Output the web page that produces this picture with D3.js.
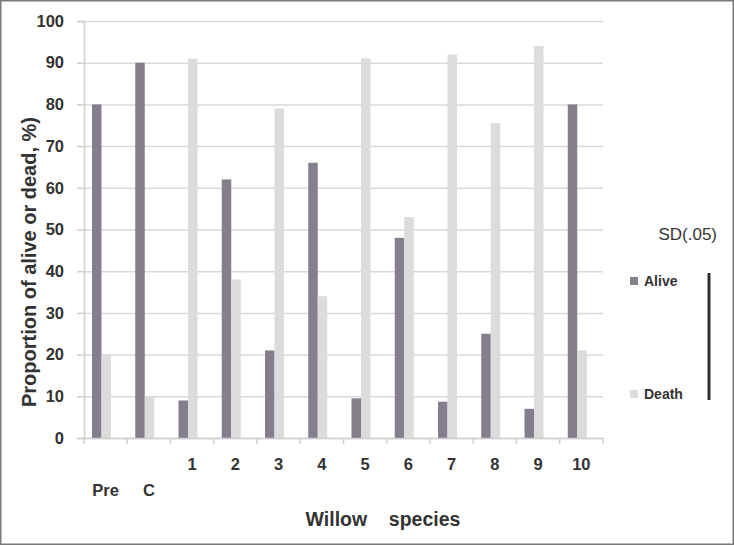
<!DOCTYPE html>
<html lang="en">
  <head>
    <meta charset="utf-8" />
    <title>Willow species survival</title>
    <script src="https://d3js.org/d3.v7.min.js"></script>
    <style>
      body { margin: 0; background: #fff; }
      svg { display: block; font-family: "Liberation Sans", Arial, sans-serif; }
      .grid line { stroke: #d9d9d9; stroke-width: 1.5; }
      .grid path { stroke: none; }
    </style>
  </head>
  <body>
    <svg width="734" height="545"></svg>
  </body>
  <script>
    // Data
    const categories = ['Pre', 'C', '1', '2', '3', '4', '5', '6', '7', '8', '9', '10'];
    const alive = [80, 90, 9, 62, 21, 66, 9.5, 48, 8.7, 25, 7, 80];
    const death = [20, 10, 91, 38, 79, 34, 91, 53, 92, 75.5, 94, 21];
    const seriesNames = ['Alive', 'Death'];
    const seriesColors = ['#847e8d', '#dcdcdc'];
    const yTicks = [0, 10, 20, 30, 40, 50, 60, 70, 80, 90, 100];

    const svg = d3.select('svg');
    const ink = '#333';

    // outer frame like the scanned figure
    svg.append('rect')
      .attr('x', 0.75).attr('y', 0.75)
      .attr('width', 732.5).attr('height', 543.5)
      .attr('fill', 'none').attr('stroke', '#7a7a7a').attr('stroke-width', 1.5);

    const plotLeft = 84, plotRight = 603, plotTop = 21, plotBottom = 438;

    const x0 = d3.scaleBand().domain(categories).range([plotLeft, plotRight]);
    const x1 = d3.scaleBand().domain(seriesNames).range([8, 27]);
    const y = d3.scaleLinear().domain([0, 100]).range([plotBottom, plotTop]);

    // horizontal grid lines
    svg.append('g')
      .attr('class', 'grid')
      .attr('transform', `translate(${plotLeft},0)`)
      .call(d3.axisLeft(y).tickValues(yTicks).tickSize(-(plotRight - plotLeft)).tickFormat(''));

    // y axis with labels
    const yAxis = svg.append('g')
      .attr('transform', `translate(${plotLeft},0)`)
      .call(d3.axisLeft(y).tickValues(yTicks).tickSize(7).tickPadding(13));
    yAxis.select('.domain').attr('stroke', '#cfcfcf').attr('stroke-width', 1.5);
    yAxis.selectAll('.tick line').attr('stroke', '#cfcfcf').attr('stroke-width', 1.5);
    yAxis.selectAll('.tick text')
      .attr('font-family', '"Liberation Sans", Arial, sans-serif')
      .attr('font-size', 16.5).attr('font-weight', 'bold').attr('fill', ink);

    // bars
    const rows = categories.map((c, i) => ({ cat: c, values: [alive[i], death[i]] }));
    const groups = svg.append('g').selectAll('g')
      .data(rows).join('g')
      .attr('transform', d => `translate(${x0(d.cat)},0)`);
    groups.selectAll('rect')
      .data(d => d.values.map((v, k) => ({ key: seriesNames[k], value: v, k })))
      .join('rect')
      .attr('x', d => x1(d.key))
      .attr('width', x1.bandwidth())
      .attr('y', d => y(d.value))
      .attr('height', d => y(0) - y(d.value))
      .attr('fill', d => seriesColors[d.k]);

    // x axis
    const xAxis = svg.append('g')
      .attr('transform', `translate(0,${plotBottom})`)
      .call(d3.axisBottom(x0).tickSize(0).tickFormat(''));
    xAxis.select('.domain').attr('stroke', '#cfcfcf').attr('stroke-width', 1.5);
    // tick marks at the band edges
    xAxis.selectAll('.edge')
      .data(categories.concat(['end']))
      .join('line')
      .attr('x1', (d, i) => plotLeft + i * x0.step())
      .attr('x2', (d, i) => plotLeft + i * x0.step())
      .attr('y1', 0).attr('y2', 6)
      .attr('stroke', '#cfcfcf').attr('stroke-width', 1.5);

    // category labels: numbered species on one line, Pre and C lower down
    svg.append('g').selectAll('text')
      .data(categories).join('text')
      .attr('x', d => x0(d) + x0.bandwidth() / 2)
      .attr('y', d => isNaN(+d) ? 496 : 470)
      .attr('text-anchor', 'middle')
      .attr('font-size', 16.5).attr('font-weight', 'bold').attr('fill', ink)
      .text(d => d);

    // axis titles
    svg.append('text')
      .attr('x', 383).attr('y', 526)
      .attr('text-anchor', 'middle')
      .attr('font-size', 19.5).attr('font-weight', 'bold').attr('fill', ink)
      .style('white-space', 'pre')
      .text('Willow    species');

    svg.append('text')
      .attr('transform', 'translate(36,262) rotate(-90)')
      .attr('text-anchor', 'middle')
      .attr('font-size', 20).attr('font-weight', 'bold').attr('fill', ink)
      .text('Proportion of alive or dead, %)');

    // legend
    svg.append('text')
      .attr('x', 717).attr('y', 240)
      .attr('text-anchor', 'end')
      .attr('font-size', 17).attr('fill', ink)
      .text('SD(.05)');

    const legendY = [281, 394];
    const legend = svg.append('g').selectAll('g')
      .data(seriesNames).join('g')
      .attr('transform', (d, i) => `translate(630,${legendY[i]})`);
    legend.append('rect')
      .attr('x', 0).attr('y', -4).attr('width', 8).attr('height', 8)
      .attr('fill', (d, i) => seriesColors[i]);
    legend.append('text')
      .attr('x', 14).attr('y', 5)
      .attr('font-size', 14).attr('font-weight', 'bold').attr('fill', ink)
      .text(d => d);

    // SD bar
    svg.append('line')
      .attr('x1', 709).attr('x2', 709)
      .attr('y1', 273).attr('y2', 400)
      .attr('stroke', '#2e2e2e').attr('stroke-width', 3);
  </script>
</html>
